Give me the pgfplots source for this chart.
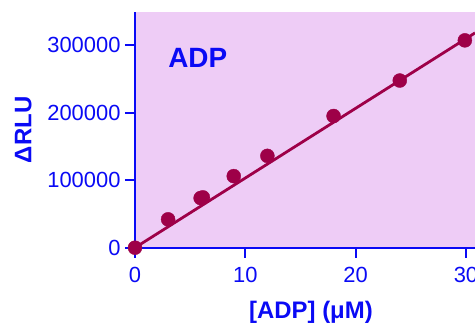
\documentclass[border=0pt]{standalone}
\usepackage{fontspec}
\setmainfont{Liberation Sans}
\usepackage{pgfplots}
\pgfplotsset{compat=1.18}
\definecolor{bgpink}{RGB}{238,204,246}
\definecolor{dotc}{RGB}{158,0,72}
\definecolor{axblue}{RGB}{10,10,245}
\begin{document}
\begin{tikzpicture}
\begin{axis}[
  scale only axis,
  width=340bp, height=235.7bp,
  xmin=0, xmax=30.82, ymin=0, ymax=349000,
  axis x line*=bottom, axis y line*=left,
  axis line style={axblue, line width=1.8bp},
  axis background/.style={fill=bgpink},
  clip=false,
  xtick={0,10,20,30},
  ytick={0,100000,200000,300000},
  minor tick num=0,
  tick align=outside,
  major tick length=10bp,
  tick style={axblue, line width=1.8bp},
  scaled ticks=false,
  /pgf/number format/.cd, fixed, precision=0, 1000 sep={}, assume math mode=true,
  /pgfplots/.cd,
  ticklabel style={font=\fontsize{22}{25}\selectfont, text=axblue},
  yticklabel style={xshift=-1bp},
  xticklabel style={yshift=-6bp},
  xlabel={\textbf{[ADP] (μM)}},
  ylabel={\textbf{ΔRLU}},
  label style={font=\fontsize{24}{27}\selectfont, text=axblue},
  xlabel style={yshift=-12bp, xshift=6bp},
  ylabel style={yshift=9bp},
]
\addplot[dotc, line width=2.8bp, no markers] coordinates {(0,0) (30.82,318000)};
\addplot[only marks, mark=*, mark size=7bp, dotc, mark options={draw=dotc, fill=dotc}] coordinates {
(0,0) (3,42000) (5.95,73500) (6.15,74500) (8.95,106000) (12,136000) (18,195000) (24,247500) (29.9,307000)};
\node[anchor=base west, font=\fontsize{28}{32}\selectfont\bfseries, text=axblue, inner sep=0pt] at (axis cs:3,267000) {ADP};
\coordinate (O) at (rel axis cs:0,0);
\end{axis}
\pgfresetboundingbox
\path ([shift={(-135bp,-78.3bp)}]O) rectangle ([shift={(340bp,247.7bp)}]O);
\end{tikzpicture}
\end{document}
